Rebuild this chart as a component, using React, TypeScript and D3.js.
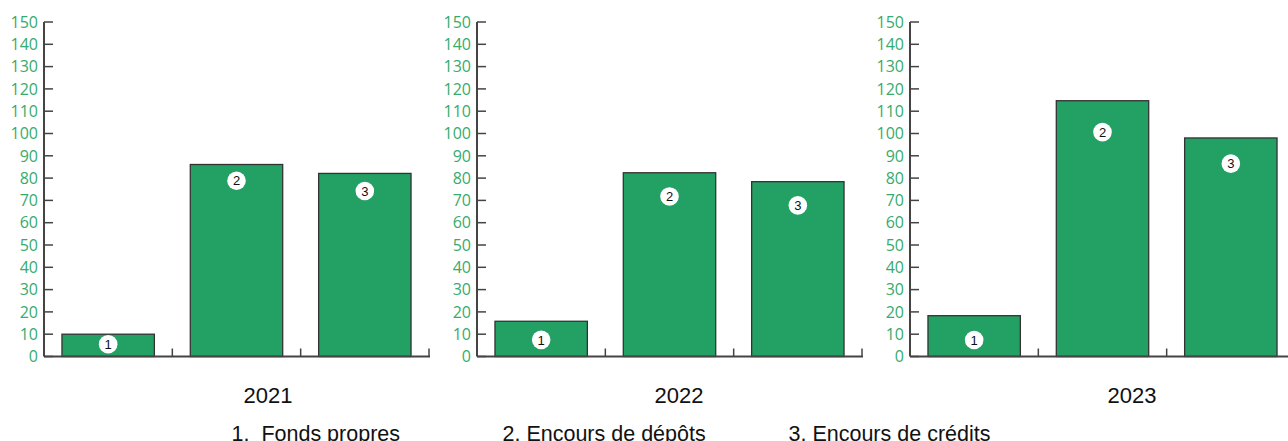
import React from "react";
import * as d3 from "d3";

const years = ["2021", "2022", "2023"];
const categories = ["1", "2", "3"];
const fondsPropres = [10, 15.8, 18.3];
const encoursDepots = [86.1, 82.4, 114.7];
const encoursCredits = [82.1, 78.4, 98];
const yTicks = [0, 10, 20, 30, 40, 50, 60, 70, 80, 90, 100, 110, 120, 130, 140, 150];
const legendItems = ["1.  Fonds propres", "2. Encours de dépôts", "3. Encours de crédits"];

const W = 1288;
const H = 441;
const panelLeft = [44, 477, 910];
const panelWidth = 385;
const top = 22;
const baseY = 356.5;
const yearX = [268, 679, 1132];
const legendX = [231.5, 502.5, 788.5];
const badgeDrop = [
  [10, 16.3, 17.6],
  [18.6, 23.7, 23.7],
  [24.3, 31.4, 25.7],
];

const green = "#23a064";
const tickGreen = "#36ab6e";
const axisColor = "#444";

export default function App() {
  const y = d3.scaleLinear().domain([0, 150]).range([baseY, top]);
  const x = d3
    .scaleBand<string>()
    .domain(categories)
    .range([0, panelWidth])
    .paddingInner(0.28)
    .paddingOuter(0.14);
  const step = x.step();

  return (
    <svg
      width={W}
      height={H}
      style={{ position: "absolute", left: 0, top: 0 }}
      xmlns="http://www.w3.org/2000/svg"
    >
      {years.map((yr, pi) => {
        const vals = [fondsPropres[pi], encoursDepots[pi], encoursCredits[pi]];
        return (
          <g key={yr} transform={`translate(${panelLeft[pi]},0)`}>
            {vals.map((v, bi) => {
              const bx = x(categories[bi])!;
              return (
                <rect
                  key={bi}
                  x={bx}
                  y={y(v)}
                  width={x.bandwidth()}
                  height={baseY - y(v)}
                  fill={green}
                  stroke="#333"
                  strokeWidth={1.3}
                />
              );
            })}
            {/* y axis */}
            <line x1={0} x2={0} y1={top} y2={baseY} stroke={axisColor} strokeWidth={2} />
            {yTicks.map((t) => (
              <g key={t}>
                <line x1={0} x2={9} y1={y(t)} y2={y(t)} stroke={axisColor} strokeWidth={1.5} />
                <text
                  x={-6}
                  y={y(t)}
                  dy="0.36em"
                  textAnchor="end"
                  fill={tickGreen}
                  fontFamily="'Open Sans', sans-serif"
                  fontSize={16}
                >
                  {t}
                </text>
              </g>
            ))}
            {/* x axis */}
            <line x1={0} x2={panelWidth + 1} y1={baseY} y2={baseY} stroke={axisColor} strokeWidth={1.8} />
            {categories.map((c, i) => (
              <line
                key={c}
                x1={step * (i + 1)}
                x2={step * (i + 1)}
                y1={baseY}
                y2={baseY - 8}
                stroke={axisColor}
                strokeWidth={1.5}
              />
            ))}
            {/* badges */}
            {vals.map((v, bi) => {
              const cx = x(categories[bi])! + x.bandwidth() / 2;
              const cy = y(v) + badgeDrop[pi][bi];
              return (
                <g key={"b" + bi}>
                  <circle cx={cx} cy={cy} r={9.3} fill="#fff" />
                  <text
                    x={cx}
                    y={cy}
                    dy="0.36em"
                    textAnchor="middle"
                    fontFamily="'Liberation Sans', Arial, sans-serif"
                    fontSize={13}
                    fill="#111"
                  >
                    {categories[bi]}
                  </text>
                </g>
              );
            })}
          </g>
        );
      })}
      {years.map((yr, pi) => (
        <text
          key={"y" + yr}
          x={yearX[pi]}
          y={403.3}
          textAnchor="middle"
          fontFamily="'Liberation Sans', Arial, sans-serif"
          fontSize={22}
          fill="#111"
        >
          {yr}
        </text>
      ))}
      {legendItems.map((l, i) => (
        <text
          key={l}
          x={legendX[i]}
          y={440.5}
          fontFamily="'Liberation Sans', Arial, sans-serif"
          fontSize={21.5}
          fill="#111"
          style={{ whiteSpace: "pre" }}
        >
          {l}
        </text>
      ))}
    </svg>
  );
}
